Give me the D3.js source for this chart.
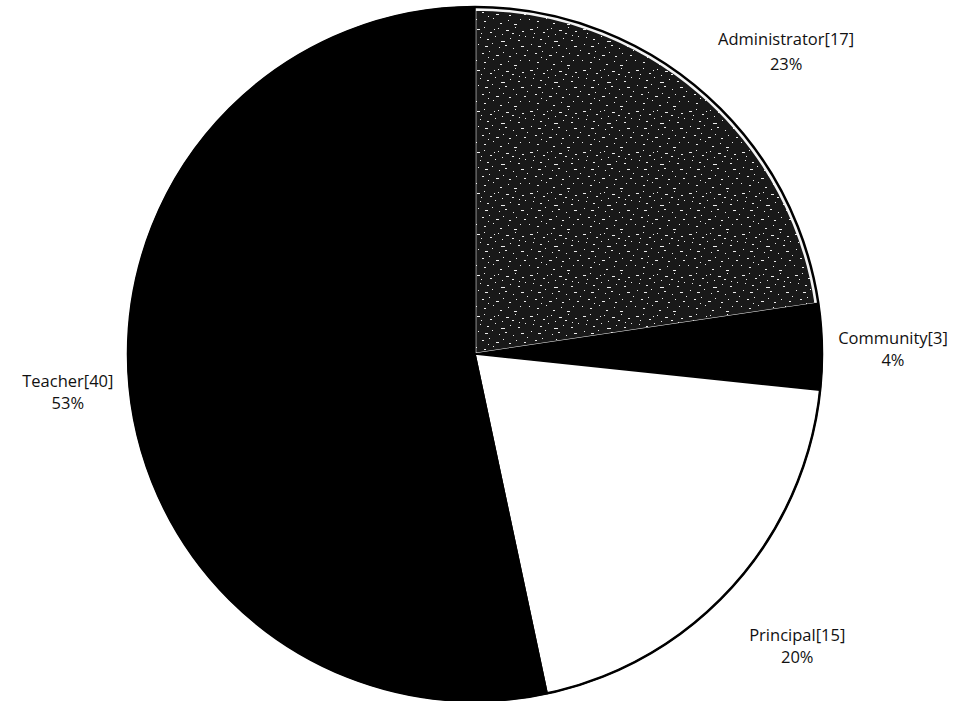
<!DOCTYPE html>
<html>
<head>
<meta charset="utf-8">
<script src="https://cdn.jsdelivr.net/npm/d3@7"></script>
<style>
  html, body { margin: 0; padding: 0; background: #fff; }
  svg { display: block; }
  text { font-family: "Open Sans", "Lato", sans-serif; font-size: 16.5px; fill: #111; }
</style>
</head>
<body>
<svg id="chart" width="960" height="701"></svg>
<script>
// Respondent groups and counts
const categories = ["Administrator", "Community", "Principal", "Teacher"];
const counts = [17, 3, 15, 40];
const percentLabels = ["23%", "4%", "20%", "53%"];

// Layout
const width = 960, height = 701;
const cx = 475, cy = 354, radius = 347;
// label anchor: angle (degrees clockwise from 12 o'clock), distance from centre, line gap
const labelAnchors = {
  Administrator: { angle: 45.8, dist: 434, gap: 25 },
  Community:     { angle: 89.3, dist: 418, gap: 22 },
  Principal:     { angle: 132.2, dist: 435, gap: 22 },
  Teacher:       { angle: 264.6, dist: 409, gap: 22 }
};
const fills = {
  Administrator: "url(#speckle)",
  Community: "#000",
  Principal: "#fff",
  Teacher: "#000"
};

const svg = d3.select("#chart");

// speckled texture for the Administrator slice
const defs = svg.append("defs");
const pat = defs.append("pattern")
  .attr("id", "speckle")
  .attr("patternUnits", "userSpaceOnUse")
  .attr("width", 53).attr("height", 41);
pat.append("rect").attr("width", 53).attr("height", 41).attr("fill", "#191919");
const specks = [
  [2,3,3,1],[9,1,1,1],[15,6,2,1],[23,2,1,1],[31,4,3,1],[40,1,1,1],[47,5,2,1],
  [5,11,1,1],[12,13,2,1],[20,10,1,1],[26,15,4,1],[35,12,1,1],[43,14,2,1],[50,10,1,1],
  [3,18,1,1],[10,20,3,1],[17,17,1,1],[24,21,1,1],[30,19,2,1],[38,22,1,1],[46,20,3,1],
  [7,27,2,1],[14,25,1,1],[21,29,3,1],[28,26,1,1],[34,30,2,1],[41,27,1,1],[49,29,2,1],
  [1,34,1,1],[9,36,2,1],[18,33,1,1],[25,38,2,1],[33,35,1,1],[39,39,3,1],[45,34,1,1],
  [6,7,1,1],[19,3,1,1],[27,8,1,1],[37,7,2,1],[44,9,1,1],[13,31,1,1],[52,24,1,1]
];
pat.selectAll("rect.s").data(specks).join("rect")
  .attr("class", "s")
  .attr("x", d => d[0]).attr("y", d => d[1])
  .attr("width", d => d[2]).attr("height", d => d[3])
  .attr("fill", "#f0f0f0");

const data = categories.map((c, i) => ({ category: c, count: counts[i], pct: percentLabels[i] }));

const pie = d3.pie().sort(null).value(d => d.count).startAngle(0).endAngle(2 * Math.PI);
const arcs = pie(data);

const g = svg.append("g").attr("transform", `translate(${cx},${cy})`);

const arcFull = d3.arc().innerRadius(0).outerRadius(radius);
const arcInset = d3.arc().innerRadius(0).outerRadius(radius - 2.5);

g.selectAll("path.slice").data(arcs).join("path")
  .attr("class", "slice")
  .attr("d", d => d.data.category === "Administrator" ? arcInset(d) : arcFull(d))
  .attr("fill", d => fills[d.data.category])
  .attr("stroke", d => d.data.category === "Administrator" ? "#f4f4f4" : "#000")
  .attr("stroke-width", d => d.data.category === "Administrator" ? 2.6 : 1.5)
  .attr("stroke-linejoin", "round");

// outer rim
g.append("circle")
  .attr("r", radius)
  .attr("fill", "none")
  .attr("stroke", "#000")
  .attr("stroke-width", 2.5);

// labels
const labels = svg.append("g");
arcs.forEach(d => {
  const a = labelAnchors[d.data.category];
  const t = a.angle * Math.PI / 180;
  const x = cx + a.dist * Math.sin(t);
  const y = cy - a.dist * Math.cos(t);
  labels.append("text")
    .attr("text-anchor", "middle")
    .attr("x", x).attr("y", y - a.gap / 2 + 6)
    .text(`${d.data.category}[${d.data.count}]`);
  labels.append("text")
    .attr("text-anchor", "middle")
    .attr("x", x).attr("y", y + a.gap / 2 + 6)
    .text(d.data.pct);
});
</script>
</body>
</html>
